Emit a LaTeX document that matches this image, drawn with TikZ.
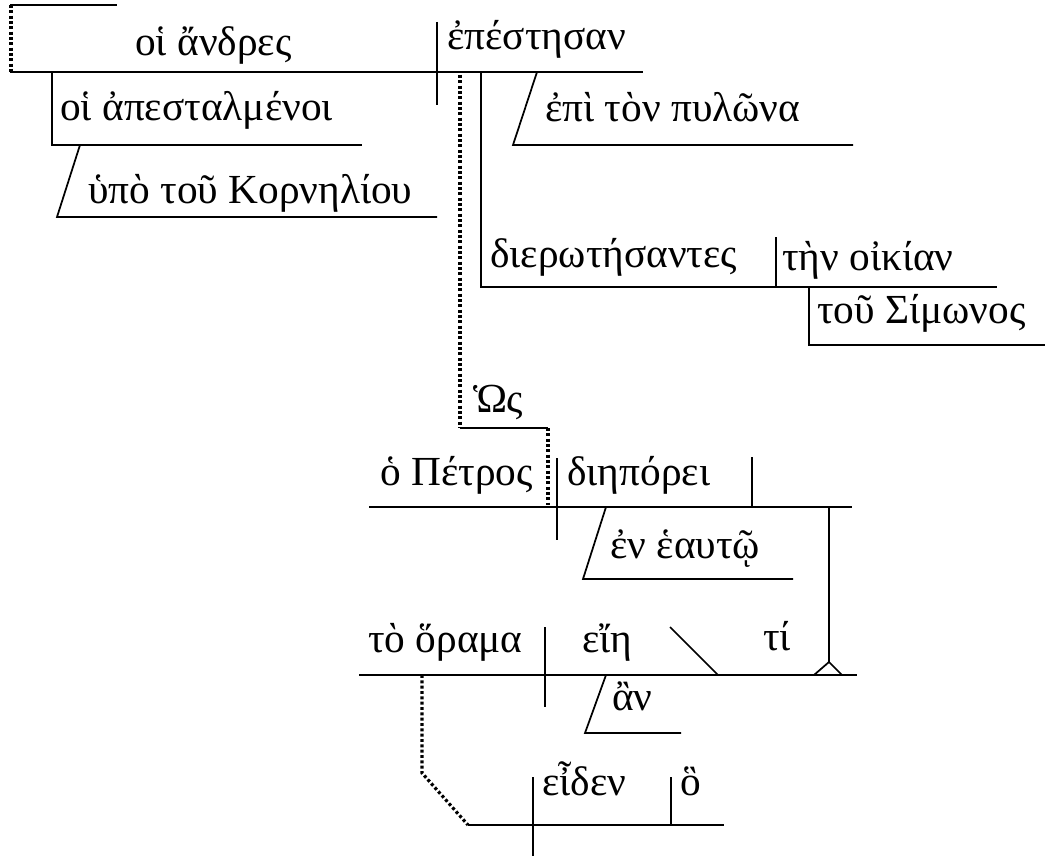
\documentclass[tikz,border=0pt]{standalone}
\usepackage{fontspec}
\setmainfont{Liberation Serif}
\usepackage{tikz}
\tikzset{
  word/.style={anchor=base west, inner sep=0pt, font=\fontsize{31}{37}\selectfont},
  rule/.style={line width=1.3pt},
  dots/.style={line width=2.4pt, dash pattern=on 2.2pt off 1.8pt},
}

\begin{document}
\begin{tikzpicture}[x=0.75pt,y=-0.75pt]
    \useasboundingbox (0,0) rectangle (1046,856);
    % main clause
    \draw[rule] (10,5) -- (117,5);
    \draw[dots] (11,5) -- (11,72);
    \draw[rule] (10,72) -- (643,72);
    \draw[rule] (437,22) -- (437,105);
    \node[word] (andres) at (135,56) {οἱ ἄνδρες};
    \node[word] (epestesan) at (447,50) {ἐπέστησαν};
    \draw[rule] (52,72) -- (52,145) -- (362,145);
    \node[word] (apestalmenoi) at (60,120) {οἱ ἀπεσταλμένοι};
    \draw[rule] (80,145) -- (57,217) -- (437,217);
    \node[word] (kornelioy) at (88,203) {ὑπὸ τοῦ Κορνηλίου};
    \draw[rule] (537,72) -- (513,145) -- (853,145);
    \node[word] (pylona) at (545,122) {ἐπὶ τὸν πυλῶνα};
    \draw[rule] (481,72) -- (481,287) -- (997,287);
    \draw[rule] (776,237) -- (776,287);
    \node[word] (dierotesantes) at (490,267) {διερωτήσαντες};
    \node[word] (oikian) at (782,270) {τὴν οἰκίαν};
    \draw[rule] (809,287) -- (809,345) -- (1045,345);
    \node[word] (simonos) at (817,323) {τοῦ Σίμωνος};
    % hos clause
    \draw[dots] (460,75) -- (460,428);
    \draw[rule] (460,428) -- (548,428);
    \draw[dots] (548,428) -- (548,505);
    \node[word] (hos) at (473,412) {Ὡς};
    \draw[rule] (369,507) -- (852,507);
    \draw[rule] (557,458) -- (557,540);
    \draw[rule] (752,457) -- (752,507);
    \node[word] (petros) at (380,485) {ὁ Πέτρος};
    \node[word] (dieporei) at (567,485) {διηπόρει};
    \draw[rule] (606,507) -- (583,579) -- (793,579);
    \node[word] (heauto) at (610,558) {ἐν ἑαυτῷ};
    \draw[rule] (829,507) -- (829,662);
    \draw[rule] (814,675) -- (829,662) -- (842,675);
    % object clause
    \draw[rule] (359,675) -- (857,675);
    \draw[rule] (545,627) -- (545,707);
    \draw[rule] (670,627) -- (718,675);
    \node[word] (horama) at (368,652) {τὸ ὅραμα};
    \node[word] (eie) at (582,652) {εἴη};
    \node[word] (ti) at (763,650) {τί};
    \draw[rule] (606,675) -- (585,733) -- (681,733);
    \node[word] (an) at (612,710) {ἂν};
    % relative clause
    \draw[dots] (422,675) -- (422,773) -- (468,825);
    \draw[rule] (468,825) -- (724,825);
    \draw[rule] (533,777) -- (533,856);
    \draw[rule] (671,777) -- (671,825);
    \node[word] (eiden) at (542,795) {εἶδεν};
    \node[word] (ho) at (680,795) {ὃ};
\end{tikzpicture}
\end{document}
